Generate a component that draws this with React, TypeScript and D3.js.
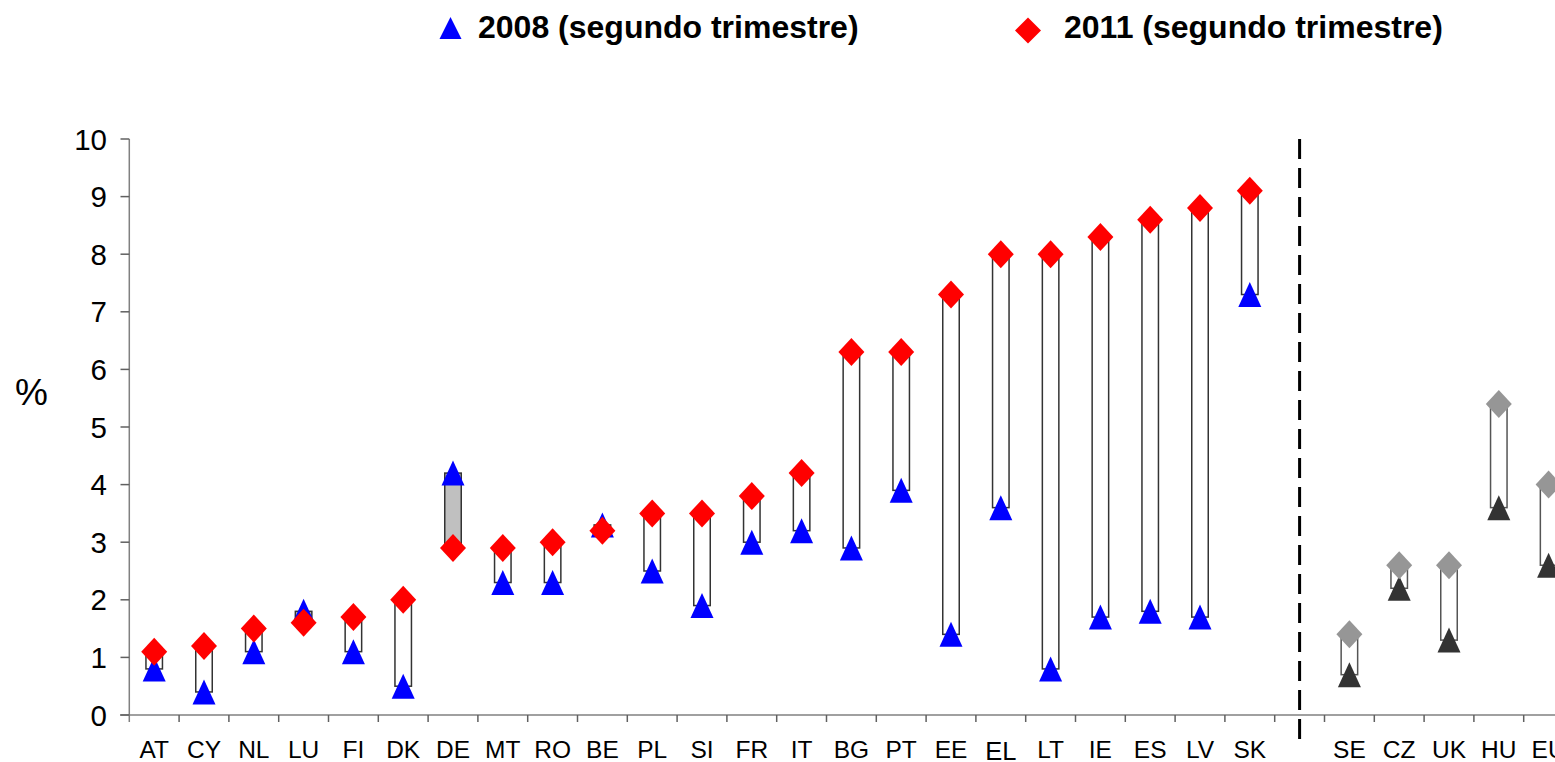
import React, { useEffect, useRef } from 'react';
import * as d3 from 'd3';

// euro area countries, sorted by 2011 value
const countries = ['AT', 'CY', 'NL', 'LU', 'FI', 'DK', 'DE', 'MT', 'RO', 'BE', 'PL', 'SI', 'FR', 'IT', 'BG', 'PT', 'EE', 'EL', 'LT', 'IE', 'ES', 'LV', 'SK'];
const q2008 = [0.8, 0.4, 1.1, 1.8, 1.1, 0.5, 4.2, 2.3, 2.3, 3.3, 2.5, 1.9, 3.0, 3.2, 2.9, 3.9, 1.4, 3.6, 0.8, 1.7, 1.8, 1.7, 7.3];
const q2011 = [1.1, 1.2, 1.5, 1.6, 1.7, 2.0, 2.9, 2.9, 3.0, 3.2, 3.5, 3.5, 3.8, 4.2, 6.3, 6.3, 7.3, 8.0, 8.0, 8.3, 8.6, 8.8, 9.1];

// countries right of the dashed line
const otherCountries = ['SE', 'CZ', 'UK', 'HU', 'EU'];
const other2008 = [0.7, 2.2, 1.3, 3.6, 2.6];
const other2011 = [1.4, 2.6, 2.6, 5.4, 4.0];

const yTicks = [0, 1, 2, 3, 4, 5, 6, 7, 8, 9, 10];
const legendLabels = ['2008 (segundo trimestre)', '2011 (segundo trimestre)'];

const W = 1555;
const H = 762;
const FONT = '"Liberation Sans", Arial, sans-serif';

const TRI = 'M0,-12.5L11.5,12.5L-11.5,12.5Z';
const DIA = 'M0,-14L13,0L0,14L-13,0Z';

const App: React.FC = () => {
  const svgRef = useRef<SVGSVGElement>(null);

  useEffect(() => {
    document.body.style.margin = '0';
    if (!svgRef.current) return;
    const svg = d3.select(svgRef.current);
    svg.selectAll('*').remove();

    const slots = [...countries, '_gap', ...otherCountries];
    const step = 49.8;
    const left = 129.3;
    const x = d3.scaleBand<string>().domain(slots).range([left, left + step * slots.length]).padding(0);
    const y = d3.scaleLinear().domain([0, 10]).range([715, 139]);

    const rows = [
      ...countries.map((c, i) => ({ c, a: q2008[i], b: q2011[i], other: false })),
      ...otherCountries.map((c, i) => ({ c, a: other2008[i], b: other2011[i], other: true })),
    ];

    // axes
    svg.append('line')
      .attr('x1', 120).attr('x2', W).attr('y1', y(0)).attr('y2', y(0))
      .attr('stroke', '#808080').attr('stroke-width', 1.5);
    svg.append('line')
      .attr('x1', left).attr('x2', left).attr('y1', y(10)).attr('y2', y(0) + 7)
      .attr('stroke', '#808080').attr('stroke-width', 1.5);

    svg.selectAll('.ytick').data(yTicks).enter().append('line')
      .attr('x1', 120.5).attr('x2', left).attr('y1', d => y(d)).attr('y2', d => y(d))
      .attr('stroke', '#606060').attr('stroke-width', 1.5);

    svg.selectAll('.ylab').data(yTicks).enter().append('text')
      .attr('x', 107).attr('y', d => y(d) + 10.5)
      .attr('text-anchor', 'end')
      .attr('font-family', FONT).attr('font-size', 29.5)
      .text(d => d);

    svg.append('text')
      .attr('x', 15).attr('y', 405)
      .attr('font-family', FONT).attr('font-size', 37)
      .text('%');

    // x ticks at slot boundaries
    svg.selectAll('.xtick').data(slots.slice(1)).enter().append('line')
      .attr('x1', d => x(d)!).attr('x2', d => x(d)!)
      .attr('y1', y(0)).attr('y2', y(0) + 7)
      .attr('stroke', '#606060').attr('stroke-width', 1.5);

    svg.selectAll('.xlab').data(rows).enter().append('text')
      .attr('x', d => x(d.c)! + x.bandwidth() / 2)
      .attr('y', d => (d.c === 'EL' ? 760 : 757.5))
      .attr('text-anchor', 'middle')
      .attr('font-family', FONT)
      .attr('font-size', d => (d.c === 'EL' ? 25.5 : 24.5))
      .text(d => d.c);

    // dashed separator
    const gx = x('_gap')! + x.bandwidth() / 2;
    svg.append('line')
      .attr('x1', gx).attr('x2', gx).attr('y1', 139).attr('y2', 745)
      .attr('stroke', '#000').attr('stroke-width', 3)
      .attr('stroke-dasharray', '20,9');

    // range boxes
    const bw = 16.5;
    svg.selectAll('.box').data(rows).enter().append('rect')
      .attr('x', d => x(d.c)! + x.bandwidth() / 2 - bw / 2)
      .attr('width', bw)
      .attr('y', d => y(Math.max(d.a, d.b)))
      .attr('height', d => Math.abs(y(d.a) - y(d.b)))
      .attr('fill', d => (d.b < d.a ? '#c0c0c0' : '#fff'))
      .attr('stroke', d => (d.other ? '#555' : '#333'))
      .attr('stroke-width', 1.5);

    svg.selectAll('.tri').data(rows).enter().append('path')
      .attr('d', TRI)
      .attr('transform', d => `translate(${x(d.c)! + x.bandwidth() / 2},${y(d.a)})`)
      .attr('fill', d => (d.other ? '#333333' : '#0000ff'));

    svg.selectAll('.dia').data(rows).enter().append('path')
      .attr('d', DIA)
      .attr('transform', d => `translate(${x(d.c)! + x.bandwidth() / 2},${y(d.b)})`)
      .attr('fill', d => (d.other ? '#969696' : '#ff0000'));

    // legend
    svg.append('path').attr('d', 'M0,-11L11,11L-11,11Z')
      .attr('transform', 'translate(450.5,28)').attr('fill', '#0000ff');
    svg.append('text')
      .attr('x', 478).attr('y', 38)
      .attr('font-family', FONT).attr('font-size', 32).attr('font-weight', 'bold')
      .text(legendLabels[0]);
    svg.append('path').attr('d', 'M0,-13L13,0L0,13L-13,0Z')
      .attr('transform', 'translate(1028,30.5)').attr('fill', '#ff0000');
    svg.append('text')
      .attr('x', 1064).attr('y', 38)
      .attr('font-family', FONT).attr('font-size', 32).attr('font-weight', 'bold')
      .text(legendLabels[1]);
  }, []);

  return (
    <svg ref={svgRef} width={W} height={H} style={{ display: 'block', background: '#fff', overflow: 'hidden' }} />
  );
};

export default App;
